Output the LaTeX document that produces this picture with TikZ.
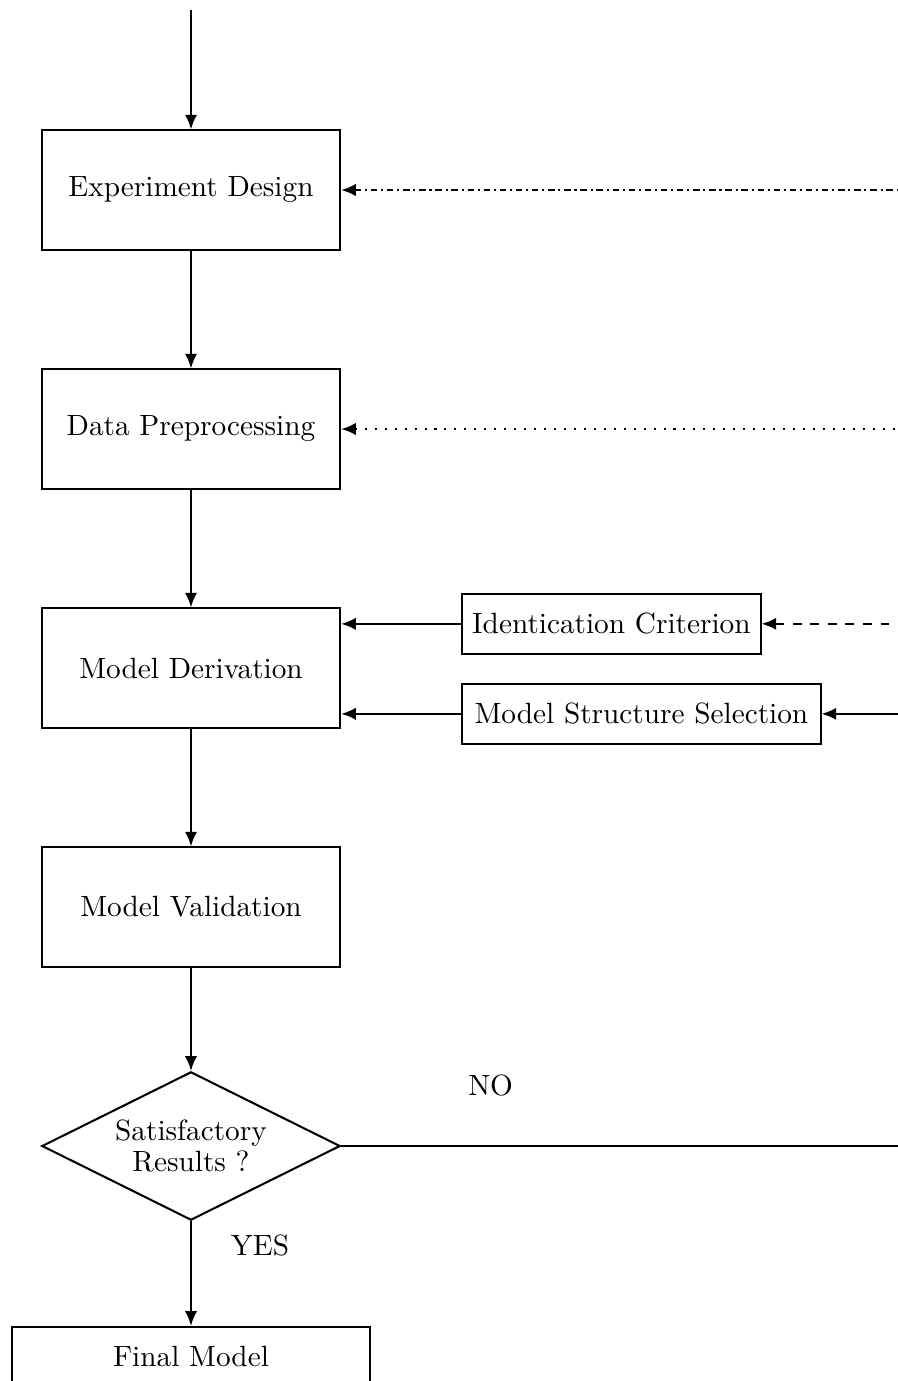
\documentclass[tikz,border=0pt]{standalone}
\usepackage{amsmath}
\usepackage{tikz}
\usetikzlibrary{arrows,arrows.meta,positioning,calc,shapes.geometric}

\begin{document}
\begin{tikzpicture}[->, >={Latex[length=5pt,width=4.2pt]}, line width=0.7pt, node distance=2.868cm]
\tikzstyle{block}=[draw=black,fill=white,text=black,rectangle,minimum width=3.58cm,minimum height=1.43cm]
\tikzstyle{side}=[draw=black,fill=white,text=black,rectangle,minimum width=3.58cm,minimum height=0.72cm,anchor=west]
\tikzstyle{decision}=[draw=black,fill=white,diamond,aspect=2,minimum width=3.58cm,minimum height=1.78cm,inner sep=1pt,align=center]
\tikzstyle{dashdot}=[dash pattern=on 2.2pt off 1.3pt on \pgflinewidth off 1.3pt]
\tikzstyle{dots}=[dash pattern=on \pgflinewidth off 2.7pt]
\clip (-2.292,2.28) rectangle (8.484,-14.292);
\node[block]    (ED)                   {Experiment Design};
\node[block]    (DP)[below of=ED]      {Data Preprocessing};
\node[block]    (MD)[below of=DP]      {Model Derivation};
\node[block]    (MV)[below of=MD]      {Model Validation};
\node[decision] (SR)[below of=MV]      {Satisfactory\\[-1.7pt]Results ?};
\node[block,minimum width=4.3cm,minimum height=0.72cm] (FM)[below of=SR,node distance=2.53cm] {Final Model};
\node[side] (IC) at ($(MD.east)+(1.44cm,0.53cm)$)  {Identication Criterion};
\node[side,minimum width=4.3cm] (MS) at ($(MD.east)+(1.44cm,-0.55cm)$) {Model Structure Selection};
\coordinate[above=1.43cm of ED.north] (in);
\coordinate (edge) at (8.7,0);
% main chain
\draw (in) -- (ED);
\draw (ED) -- (DP);
\draw (DP) -- (MD);
\draw (MD) -- (MV);
\draw (MV) -- (SR);
\draw (SR) -- node[pos=0.23,right=0.35cm]{YES} (FM);
% feedback lines
\draw[-] (SR.east) -- node[pos=0.26,above=0.47cm]{NO} (SR.east -| edge);
\draw[<-,dashdot] (ED.east) -- (ED.east -| edge);
\draw[<-,dots] (DP.east) -- (DP.east -| edge);
\draw[<-,dashed] (IC.east) -- (IC.east -| edge);
\draw[<-] (MS.east) -- (MS.east -| edge);
\draw (IC.west) -- (IC.west -| MD.east);
\draw (MS.west) -- (MS.west -| MD.east);
\end{tikzpicture}
\end{document}
